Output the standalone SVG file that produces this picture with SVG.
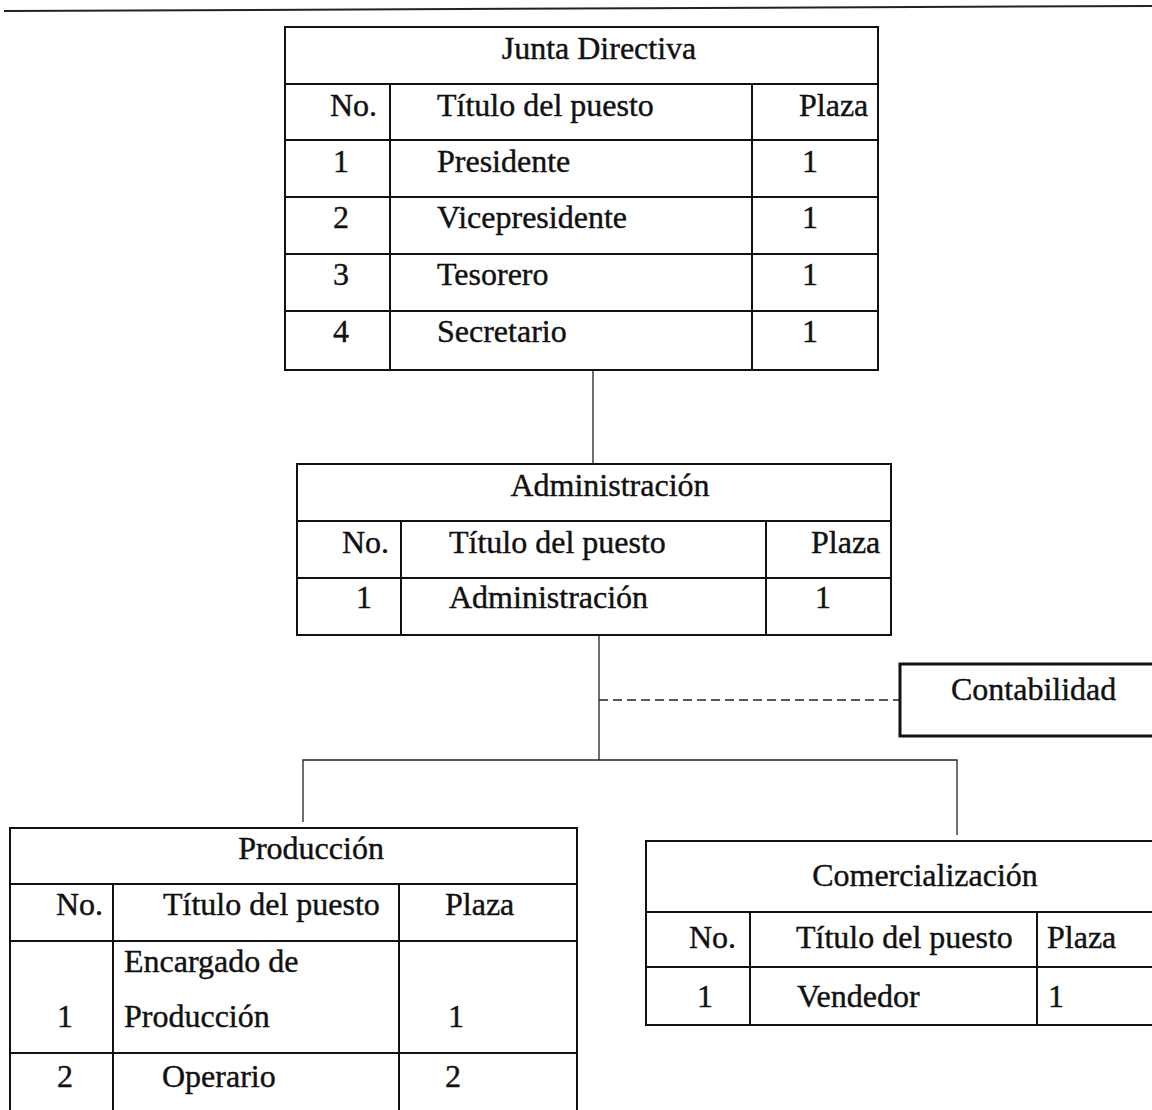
<svg xmlns="http://www.w3.org/2000/svg" width="1152" height="1110" viewBox="0 0 1152 1110">
<style>
.b{fill:none;stroke:#111;stroke-width:2}
.c{fill:none;stroke:#222;stroke-width:1.3}
.d{fill:none;stroke:#222;stroke-width:1.5;stroke-dasharray:9 5}
text{font-family:"Liberation Serif","Times New Roman",serif;font-size:32px;fill:#111;stroke:#111;stroke-width:0.4}
.m{text-anchor:middle}
</style>
<rect width="1152" height="1110" fill="#fff"/>
<line x1="4" y1="11" x2="1152" y2="6" stroke="#222" stroke-width="2"/>
<g id="connectors">
<line class="c" x1="593" y1="370" x2="593" y2="464"/>
<line class="c" x1="599" y1="635" x2="599" y2="760"/>
<line class="d" x1="599" y1="700" x2="900" y2="700"/>
<polyline class="c" points="303,822 303,760 957,760 957,835"/>
</g>
<g id="junta">
<rect class="b" x="285" y="27" width="593" height="343"/>
<path class="b" d="M285 84H878M285 140H878M285 197H878M285 254H878M285 311H878M390 84V370M752 84V370"/>
<text class="m" x="599" y="59">Junta Directiva</text>
<text x="330" y="116">No.</text>
<text x="437" y="116">Título del puesto</text>
<text x="799" y="116">Plaza</text>
<text x="333" y="172">1</text><text x="437" y="172">Presidente</text><text x="802" y="172">1</text>
<text x="333" y="228">2</text><text x="437" y="228">Vicepresidente</text><text x="802" y="228">1</text>
<text x="333" y="285">3</text><text x="437" y="285">Tesorero</text><text x="802" y="285">1</text>
<text x="333" y="342">4</text><text x="437" y="342">Secretario</text><text x="802" y="342">1</text>
</g>
<g id="administracion">
<rect class="b" x="297" y="464" width="594" height="171"/>
<path class="b" d="M297 521H891M297 578H891M401 521V635M766 521V635"/>
<text class="m" x="610" y="496">Administración</text>
<text x="342" y="553">No.</text>
<text x="449" y="553">Título del puesto</text>
<text x="811" y="553">Plaza</text>
<text x="356" y="608">1</text><text x="449" y="608">Administración</text><text x="815" y="608">1</text>
</g>
<g id="contabilidad">
<rect x="900" y="664" width="270" height="72" fill="none" stroke="#111" stroke-width="3"/>
<text x="951" y="700">Contabilidad</text>
</g>
<g id="produccion">
<path class="b" d="M10 1112V828H577V1112M10 884H577M10 941H577M10 1053H577M113 884V1112M399 884V1112"/>
<text class="m" x="311" y="859">Producción</text>
<text x="56" y="915">No.</text>
<text x="163" y="915">Título del puesto</text>
<text x="445" y="915">Plaza</text>
<text x="124" y="972">Encargado de</text>
<text x="57" y="1027">1</text><text x="124" y="1027">Producción</text><text x="448" y="1027">1</text>
<text x="57" y="1087">2</text><text x="162" y="1087">Operario</text><text x="445" y="1087">2</text>
</g>
<g id="comercializacion">
<rect class="b" x="646" y="841" width="540" height="184"/>
<path class="b" d="M646 912H1186M646 967H1186M750 912V1025M1037 912V1025"/>
<text class="m" x="925" y="886">Comercialización</text>
<text x="689" y="948">No.</text>
<text x="796" y="948">Título del puesto</text>
<text x="1047" y="948">Plaza</text>
<text x="697" y="1007">1</text><text x="797" y="1007">Vendedor</text><text x="1048" y="1007">1</text>
</g>
</svg>
